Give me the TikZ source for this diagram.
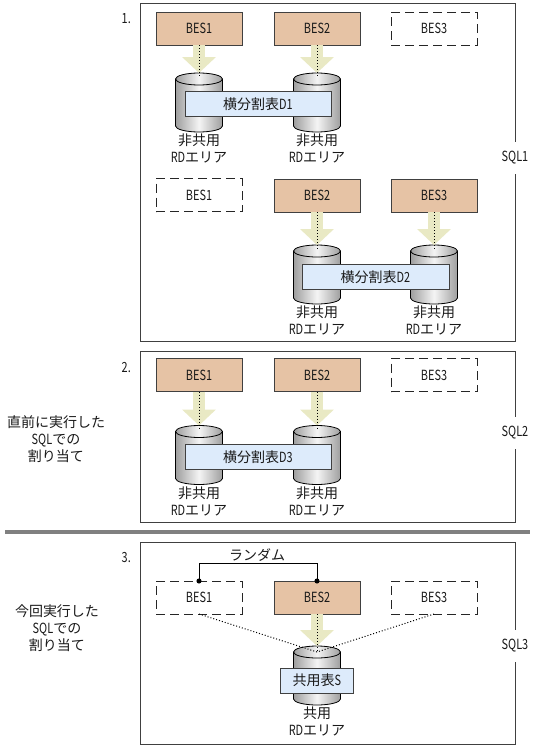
\documentclass[tikz,border=0pt]{standalone}
\usepackage{fontspec}
\setmainfont{Noto Sans CJK JP}
\newfontfamily\halffont{Noto Sans CJK JP}[FakeStretch=0.78]
\newcommand{\hw}[1]{{\halffont #1}}
\definecolor{besBrown}{HTML}{E6C3A5}
\definecolor{tableBlue}{HTML}{DDEBFB}
\definecolor{arrowYellow}{HTML}{E9E9C4}
\definecolor{lineGrey}{HTML}{404040}
\usetikzlibrary{arrows.meta, positioning, calc}

\begin{document}
\begin{tikzpicture}[
    x=1pt, y=-1pt,
    every node/.style={font=\fontsize{14}{17}\selectfont, text=black!90},
    frame/.style={draw=lineGrey, line width=0.9pt, anchor=north west, minimum width=375pt, inner sep=0pt, outer sep=0pt},
    bes/.style={draw=lineGrey, fill=besBrown, line width=0.9pt, minimum width=86pt, minimum height=33pt, inner sep=0pt, outer sep=0pt},
    besoff/.style={bes, draw=black!85, fill=none, line width=1pt, dash pattern=on 9pt off 5pt},
    disk/.style={minimum width=47pt, minimum height=59pt, inner sep=0pt, outer sep=0pt,
      append after command={\pgfextra{
        \draw[black, line width=0.8pt, left color=black!38, right color=black!38, middle color=black!4]
          ($(\tikzlastnode.north west)+(0,6)$) arc (180:0:23.5pt and 6pt)
          -- ($(\tikzlastnode.south east)+(0,-6)$) arc (0:-180:23.5pt and 6pt) -- cycle;
        \draw[black, line width=0.8pt]
          ($(\tikzlastnode.north west)+(0,6)$) arc (180:360:23.5pt and 6pt);
      }}},
    tbl/.style={draw=lineGrey, fill=tableBlue, line width=0.9pt, minimum height=25pt, inner sep=0pt, outer sep=0pt},
    lbl/.style={align=center, inner sep=0pt},
    sqllbl/.style={fill=white, inner sep=1pt, minimum height=32pt},
    arr/.style={-{Triangle[length=16pt, width=33pt]}, arrowYellow, line width=12pt},
    dots/.style={dotted, black, line width=1pt},
    pick/.style={{Circle[length=5pt]}-{Circle[length=5pt]}, shorten <=-2.5pt, shorten >=-2.5pt, black, line width=0.8pt},
  ]
    \useasboundingbox (0,0) rectangle (549,747);

    % Frames
    \node[frame, minimum height=338pt] (f1) at (140,3) {};
    \node[frame, minimum height=171pt] (f2) at (140,351) {};
    \node[frame, minimum height=202pt] (f3) at (140,542) {};
    \node[sqllbl] (sql1) at (515,158) {\hw{SQL1}};
    \node[sqllbl] (sql2) at (515,433) {\hw{SQL2}};
    \node[sqllbl] (sql3) at (515,646) {\hw{SQL3}};
    \node[draw=none, fill=black!50, minimum width=525pt, minimum height=3.5pt, inner sep=0pt] (sep) at (267.5,532) {};

    % Side notes
    \node[lbl, anchor=east] (n1) at (131,19) {\hw{1.}};
    \node[lbl, anchor=east] (n2) at (131,368) {\hw{2.}};
    \node[lbl, anchor=east] (n3) at (131,558) {\hw{3.}};
    \node[lbl] (before) at (56,439) {直前に実行した\\\hw{SQL}での\\割り当て};
    \node[lbl] (now) at (57,628) {今回実行した\\\hw{SQL}での\\割り当て};

    % SQL1, first table
    \node[bes] (a1) at (199,28.5) {\hw{BES1}};
    \node[bes, right=32pt of a1] (a2) {\hw{BES2}};
    \node[besoff, right=31pt of a2] (a3) {\hw{BES3}};
    \node[disk, below=28pt of a1] (ac1) {};
    \node[disk, below=28pt of a2] (ac2) {};
    \node[tbl, minimum width=146pt] (d1) at ($(ac1)!0.5!(ac2)+(0,1.5)$) {横分割表\hw{D1}};
    \node[lbl, below=2pt of ac1] (al1) {非共用\\\hw{RD}エリア};
    \node[lbl, below=2pt of ac2] (al2) {非共用\\\hw{RD}エリア};
    \draw[arr] (a1.south) -- (ac1.north);
    \draw[arr] (a2.south) -- (ac2.north);
    \draw[dots] (a1.south) -- ([yshift=-4pt]ac1.north);
    \draw[dots] (a2.south) -- ([yshift=-4pt]ac2.north);

    % SQL1, second table
    \node[besoff] (b1) at (199,195) {\hw{BES1}};
    \node[bes] (b2) at (317,195.5) {\hw{BES2}};
    \node[bes, right=31pt of b2] (b3) {\hw{BES3}};
    \node[disk, below=33pt of b2] (bc1) {};
    \node[disk, below=33pt of b3] (bc2) {};
    \node[tbl, minimum width=147pt] (d2) at ($(bc1)!0.5!(bc2)+(0,2.5)$) {横分割表\hw{D2}};
    \node[lbl, below=2pt of bc1] (bl1) {非共用\\\hw{RD}エリア};
    \node[lbl, below=2pt of bc2] (bl2) {非共用\\\hw{RD}エリア};
    \draw[arr] (b2.south) -- (bc1.north);
    \draw[arr] (b3.south) -- (bc2.north);
    \draw[dots] (b2.south) -- ([yshift=-4pt]bc1.north);
    \draw[dots] (b3.south) -- ([yshift=-4pt]bc2.north);

    % SQL2
    \node[bes] (c1) at (199,375) {\hw{BES1}};
    \node[bes, right=32pt of c1] (c2) {\hw{BES2}};
    \node[besoff, right=31pt of c2] (c3) {\hw{BES3}};
    \node[disk, below=34pt of c1] (cc1) {};
    \node[disk, below=34pt of c2] (cc2) {};
    \node[tbl, minimum width=146pt] (d3) at ($(cc1)!0.5!(cc2)+(0,2)$) {横分割表\hw{D3}};
    \node[lbl, below=2pt of cc1] (cl1) {非共用\\\hw{RD}エリア};
    \node[lbl, below=2pt of cc2] (cl2) {非共用\\\hw{RD}エリア};
    \draw[arr] (c1.south) -- (cc1.north);
    \draw[arr] (c2.south) -- (cc2.north);
    \draw[dots] (c1.south) -- ([yshift=-4pt]cc1.north);
    \draw[dots] (c2.south) -- ([yshift=-4pt]cc2.north);

    % SQL3
    \node[besoff] (e1) at (199,597.5) {\hw{BES1}};
    \node[bes, right=32pt of e1] (e2) {\hw{BES2}};
    \node[besoff, right=31pt of e2] (e3) {\hw{BES3}};
    \node[disk, below=32pt of e2] (ec) {};
    \node[tbl, minimum width=73pt] (s) at ($(ec)+(0,5)$) {共用表\hw{S}};
    \node[lbl, below=2pt of ec] (el) {共用\\\hw{RD}エリア};
    \node[lbl] (rnd) at (257,555) {ランダム};
    \draw[pick] (e1.north) -- ++(0,-18) -| (e2.north);
    \draw[arr] (e2.south) -- (ec.north);
    \draw[dots] (e2.south) -- ([yshift=-6pt]ec.north);
    \draw[dots] (e1.south) -- ([yshift=-6pt]ec.north);
    \draw[dots] (e3.south) -- ([yshift=-6pt]ec.north);
  \end{tikzpicture}
\end{document}
